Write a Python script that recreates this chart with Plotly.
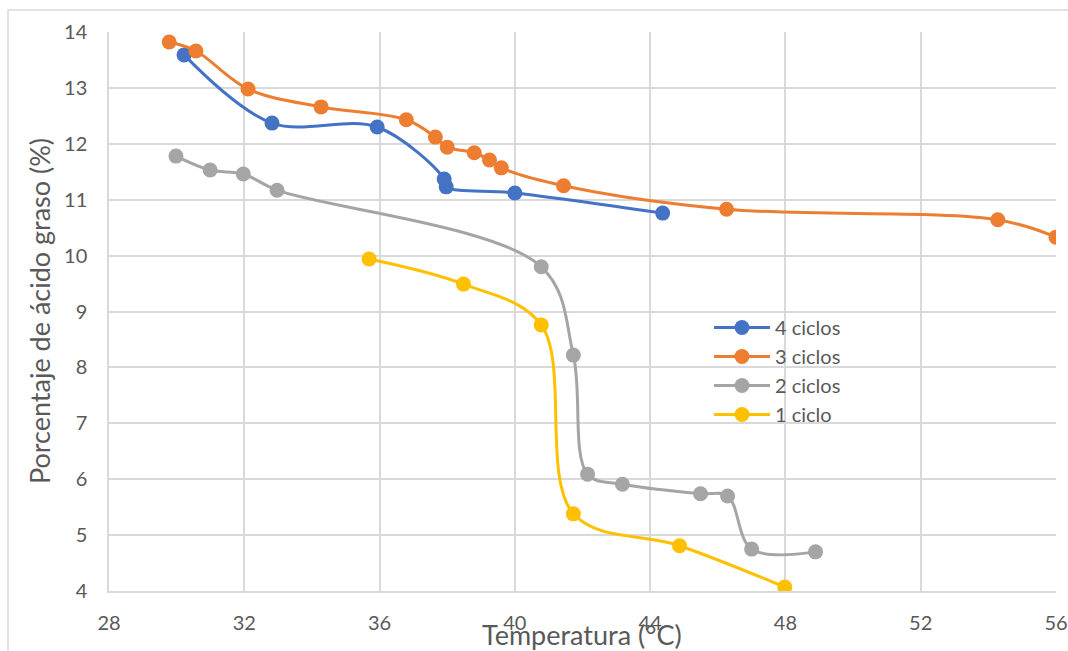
import plotly.graph_objects as go

# ---- data ----
t4 = [30.22, 32.82, 35.93, 37.91, 37.97, 40.0, 44.37]
p4 = [13.59, 12.37, 12.30, 11.37, 11.23, 11.12, 10.76]

t3 = [29.78, 30.57, 32.11, 34.27, 36.79, 37.65, 38.0, 38.80, 39.25, 39.60, 41.44, 46.26, 54.28, 56.0]
p3 = [13.82, 13.66, 12.98, 12.66, 12.43, 12.12, 11.94, 11.84, 11.71, 11.57, 11.25, 10.83, 10.64, 10.33]

t2 = [29.98, 30.99, 31.97, 32.97, 40.78, 41.73, 42.15, 43.18, 45.49, 46.29, 47.0, 48.89]
p2 = [11.78, 11.53, 11.46, 11.17, 9.80, 8.22, 6.09, 5.91, 5.74, 5.70, 4.75, 4.70]

t1 = [35.69, 38.48, 40.78, 41.73, 44.87, 47.98]
p1 = [9.94, 9.49, 8.76, 5.38, 4.81, 4.07]

series = [
    ("4 ciclos", t4, p4, "#4472C4"),
    ("3 ciclos", t3, p3, "#ED7D31"),
    ("2 ciclos", t2, p2, "#A5A5A5"),
    ("1 ciclo", t1, p1, "#FFC000"),
]

x_ticks = [28, 32, 36, 40, 44, 48, 52, 56]
y_ticks = [4, 5, 6, 7, 8, 9, 10, 11, 12, 13, 14]

FONT = "Lato"
TXT = "#595959"
GRID = "#d9d9d9"

fig = go.Figure()
for name, xs, ys, col in series:
    fig.add_trace(go.Scatter(
        x=xs, y=ys, name=name, mode="lines+markers",
        line=dict(color=col, width=3, shape="spline", smoothing=1.0),
        marker=dict(color=col, size=15, line=dict(width=0)),
    ))

L, R, T, B = 109, 1056, 32, 591
W, H = 1068, 651

def px_x(p):
    return (p - L) / (R - L)

def px_y(p):
    return (B - p) / (B - T)

fig.update_layout(
    width=W, height=H,
    margin=dict(l=L, r=W - R, t=T, b=H - B, autoexpand=False),
    paper_bgcolor="white", plot_bgcolor="white",
    font=dict(family=FONT, color=TXT, size=20),
    showlegend=True,
    legend=dict(
        x=px_x(709), y=px_y(308), xanchor="left", yanchor="top",
        bgcolor="rgba(0,0,0,0)", font=dict(size=20, color=TXT),
        itemwidth=56, tracegroupgap=0,
    ),
    xaxis=dict(
        range=[28, 56], tickmode="array", tickvals=x_ticks,
        ticktext=[str(v) for v in x_ticks],
        showgrid=True, gridcolor=GRID, gridwidth=1.5,
        showline=True, linecolor=GRID, linewidth=1.5,
        zeroline=False, ticks="", ticklabelstandoff=13,
        tickfont=dict(size=20, color=TXT, family=FONT),
        automargin=False,
    ),
    yaxis=dict(
        range=[4, 14], tickmode="array", tickvals=y_ticks,
        ticktext=[str(v) for v in y_ticks],
        showgrid=True, gridcolor=GRID, gridwidth=1.5,
        showline=True, linecolor=GRID, linewidth=1.5,
        zeroline=False, ticks="", ticklabelstandoff=16,
        tickfont=dict(size=20, color=TXT, family=FONT),
        automargin=False,
    ),
    shapes=[dict(
        type="rect", xref="paper", yref="paper",
        x0=px_x(8), x1=px_x(1100), y0=px_y(700), y1=px_y(10),
        line=dict(color=GRID, width=1.5), fillcolor="rgba(0,0,0,0)", layer="below",
    )],
    annotations=[
        dict(text="Temperatura (°C)", xref="paper", yref="paper",
             x=px_x(582), y=px_y(634), xanchor="center", yanchor="middle",
             showarrow=False, font=dict(size=27, color=TXT, family=FONT)),
        dict(text="Porcentaje de ácido graso (%)", xref="paper", yref="paper",
             x=px_x(39), y=px_y(311), xanchor="center", yanchor="middle",
             textangle=-90, showarrow=False,
             font=dict(size=27, color=TXT, family=FONT)),
    ],
)

fig.write_html("out.html")
